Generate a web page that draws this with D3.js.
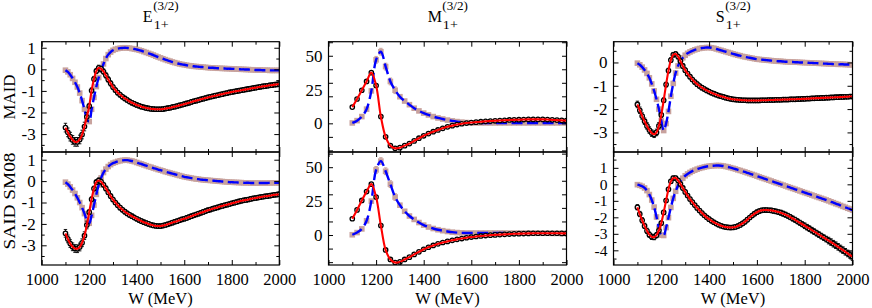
<!DOCTYPE html>
<html><head><meta charset="utf-8">
<script src="https://cdn.jsdelivr.net/npm/d3@7"></script>
<style>
html,body{margin:0;padding:0;background:#fff;}
svg{display:block;font-family:"Liberation Serif","Times New Roman",Times,serif;}
</style></head><body>
<svg id="chart" width="872" height="308"></svg>
<script>
// ---------------- DATA ----------------
const grid10 = d3.range(1100, 2001, 10);   // W (MeV) sampling for E and S panels
const grid20 = d3.range(1100, 2001, 20);   // W (MeV) sampling for M panels
const columnTitles = ["E", "M", "S"];
const rowLabels = ["MAID", "SAID SM08"];
const xTickLabels = [1000, 1200, 1400, 1600, 1800, 2000];

const E_MAID_re = [-2.70,-2.92,-3.12,-3.27,-3.36,-3.36,-3.25,-3.02,-2.65,-2.20,
 -1.70,-0.98,-0.45,-0.08,0.07,0.02,-0.10,-0.28,-0.47,-0.65,
 -0.82,-0.96,-1.08,-1.18,-1.27,-1.35,-1.42,-1.49,-1.55,-1.60,
 -1.65,-1.69,-1.73,-1.76,-1.79,-1.81,-1.83,-1.84,-1.85,-1.85,
 -1.85,-1.84,-1.82,-1.80,-1.78,-1.75,-1.73,-1.70,-1.67,-1.64,
 -1.61,-1.58,-1.55,-1.51,-1.48,-1.45,-1.42,-1.39,-1.36,-1.33,
 -1.30,-1.27,-1.25,-1.22,-1.20,-1.17,-1.15,-1.12,-1.10,-1.07,
 -1.05,-1.03,-1.01,-0.99,-0.97,-0.95,-0.93,-0.91,-0.89,-0.87,
 -0.85,-0.83,-0.81,-0.79,-0.78,-0.76,-0.74,-0.73,-0.71,-0.70,
 -0.68];
const E_MAID_im = [-0.04,-0.12,-0.25,-0.42,-0.60,-0.82,-1.10,-1.45,-1.85,-2.30,
 -2.42,-1.85,-1.30,-0.80,-0.38,-0.05,0.25,0.50,0.68,0.80,
 0.88,0.93,0.96,0.98,0.99,1.00,0.99,0.98,0.96,0.94,
 0.92,0.89,0.86,0.82,0.78,0.74,0.70,0.66,0.61,0.57,
 0.53,0.49,0.45,0.41,0.38,0.34,0.31,0.28,0.25,0.23,
 0.21,0.19,0.17,0.16,0.14,0.13,0.12,0.11,0.10,0.09,
 0.08,0.07,0.07,0.06,0.05,0.05,0.04,0.04,0.03,0.03,
 0.02,0.02,0.01,0.01,0.00,0.00,-0.01,-0.01,-0.02,-0.02,
 -0.03,-0.03,-0.03,-0.04,-0.04,-0.04,-0.05,-0.05,-0.05,-0.05,
 -0.05];
const E_SAID_re = [-2.44,-2.70,-2.92,-3.07,-3.15,-3.16,-3.08,-2.88,-2.55,-2.05,
 -1.45,-0.85,-0.35,-0.05,0.03,-0.03,-0.17,-0.34,-0.52,-0.70,
 -0.86,-1.00,-1.13,-1.24,-1.34,-1.43,-1.51,-1.58,-1.64,-1.70,
 -1.76,-1.82,-1.87,-1.92,-1.96,-2.00,-2.04,-2.07,-2.09,-2.10,
 -2.10,-2.08,-2.05,-2.02,-1.98,-1.94,-1.90,-1.87,-1.83,-1.79,
 -1.76,-1.72,-1.68,-1.64,-1.60,-1.56,-1.52,-1.48,-1.44,-1.40,
 -1.36,-1.33,-1.29,-1.26,-1.23,-1.19,-1.16,-1.13,-1.10,-1.07,
 -1.04,-1.01,-0.98,-0.95,-0.92,-0.90,-0.88,-0.86,-0.83,-0.81,
 -0.79,-0.77,-0.75,-0.73,-0.71,-0.70,-0.68,-0.66,-0.64,-0.63,
 -0.61];
const E_SAID_im = [-0.05,-0.14,-0.27,-0.42,-0.58,-0.78,-1.00,-1.24,-1.52,-1.82,
 -1.97,-1.60,-1.12,-0.62,-0.18,0.15,0.40,0.56,0.68,0.77,
 0.84,0.88,0.92,0.95,0.97,0.98,0.98,0.96,0.94,0.91,
 0.87,0.83,0.80,0.76,0.72,0.68,0.65,0.61,0.58,0.54,
 0.51,0.48,0.44,0.41,0.38,0.35,0.32,0.29,0.26,0.23,
 0.20,0.18,0.16,0.14,0.12,0.10,0.09,0.07,0.06,0.05,
 0.04,0.03,0.02,0.01,0.00,-0.01,-0.02,-0.03,-0.04,-0.05,
 -0.05,-0.06,-0.06,-0.07,-0.07,-0.08,-0.08,-0.08,-0.09,-0.09,
 -0.09,-0.09,-0.09,-0.09,-0.09,-0.09,-0.08,-0.08,-0.08,-0.08,
 -0.08];

const M_MAID_re = [12,18,24.5,31,37.5, 28,5,-10,-16.5,-18.5, -18,-16.5,-15,-13,-11,
 -9.2,-7.6,-6.2,-4.9,-3.7, -2.6,-1.7,-0.9,-0.3,0.2, 0.6,0.9,1.2,1.5,1.7,
 1.9,2.1,2.3,2.5,2.6, 2.7,2.8,2.9,2.9,2.9, 2.9,2.8,2.6,2.4,2.2, 2.0];
const M_MAID_im = [0.3,2.0,5.0,10.5,24, 47,53,42,31,24.5, 19.7,16.5,13.8,11.2,9.2,
 7.6,6.2,5.0,4.0,3.2, 2.4,1.8,1.3,0.9,0.6, 0.4,0.3,0.3,0.3,0.3,
 0.3,0.3,0.3,0.3,0.3, 0.3,0.3,0.3,0.3,0.3, 0.3,0.3,0.3,0.3,0.3, 0.3];
const M_SAID_re = [12,18.5,25.5,32,37.5, 28,7,-11,-18,-20.3, -19.8,-18,-16.3,-14.3,-12.4,
 -10.5,-9.0,-7.7,-6.5,-5.5, -4.7,-3.9,-3.2,-2.6,-2.0, -1.5,-1.1,-0.7,-0.4,-0.1,
 0.1,0.3,0.5,0.7,0.9, 1.0,1.1,1.2,1.3,1.3, 1.3,1.3,1.3,1.3,1.2, 1.2];
const M_SAID_im = [0.2,1.8,4.5,10.5,25, 48,54.5,47,37.5,28, 22,17.5,14,11.5,9.2,
 7.3,5.9,4.8,3.9,3.2, 2.6,2.1,1.8,1.6,1.5, 1.5,1.5,1.5,1.5,1.5,
 1.5,1.5,1.5,1.4,1.4, 1.4,1.4,1.4,1.3,1.3, 1.3,1.3,1.2,1.2,1.2, 1.2];

const S_MAID_re = [-1.80,-2.05,-2.30,-2.52,-2.72,-2.90,-3.03,-3.08,-3.00,-2.72,
 -2.25,-1.62,-0.95,-0.35,0.10,0.33,0.36,0.25,0.06,-0.15,
 -0.33,-0.48,-0.61,-0.73,-0.84,-0.93,-1.01,-1.08,-1.14,-1.20,
 -1.25,-1.30,-1.34,-1.38,-1.42,-1.45,-1.48,-1.51,-1.54,-1.56,
 -1.58,-1.59,-1.60,-1.61,-1.62,-1.62,-1.63,-1.63,-1.63,-1.63,
 -1.63,-1.63,-1.62,-1.62,-1.62,-1.61,-1.61,-1.61,-1.60,-1.60,
 -1.60,-1.59,-1.59,-1.59,-1.58,-1.58,-1.58,-1.57,-1.57,-1.56,
 -1.56,-1.55,-1.55,-1.54,-1.54,-1.53,-1.53,-1.52,-1.52,-1.51,
 -1.51,-1.50,-1.50,-1.49,-1.49,-1.48,-1.48,-1.47,-1.47,-1.46,
 -1.46];
const S_MAID_im = [-0.03,-0.10,-0.20,-0.32,-0.47,-0.66,-0.92,-1.22,-1.58,-2.00,
 -2.50,-2.92,-2.62,-2.10,-1.45,-0.90,-0.45,-0.15,0.06,0.20,
 0.31,0.39,0.45,0.50,0.54,0.57,0.60,0.62,0.63,0.64,
 0.64,0.63,0.61,0.58,0.55,0.52,0.49,0.46,0.43,0.40,
 0.37,0.34,0.31,0.29,0.26,0.24,0.22,0.20,0.18,0.16,
 0.14,0.13,0.12,0.11,0.10,0.09,0.08,0.07,0.06,0.05,
 0.05,0.04,0.03,0.03,0.02,0.02,0.01,0.01,0.00,0.00,
 -0.01,-0.01,-0.02,-0.02,-0.03,-0.03,-0.04,-0.04,-0.05,-0.05,
 -0.06,-0.06,-0.07,-0.07,-0.08,-0.08,-0.08,-0.09,-0.09,-0.10,
 -0.10];
const S_SAID_re = [-1.39,-1.80,-2.18,-2.52,-2.82,-3.05,-3.18,-3.20,-3.08,-2.80,
 -2.35,-1.70,-0.98,-0.30,0.18,0.38,0.38,0.24,0.02,-0.22,
 -0.46,-0.68,-0.89,-1.08,-1.26,-1.43,-1.59,-1.74,-1.88,-2.00,
 -2.11,-2.21,-2.30,-2.38,-2.45,-2.51,-2.56,-2.59,-2.61,-2.62,
 -2.61,-2.58,-2.53,-2.46,-2.37,-2.27,-2.14,-2.01,-1.89,-1.78,
 -1.69,-1.62,-1.58,-1.56,-1.56,-1.57,-1.58,-1.61,-1.64,-1.68,
 -1.72,-1.78,-1.84,-1.91,-1.99,-2.07,-2.15,-2.24,-2.33,-2.42,
 -2.51,-2.60,-2.69,-2.78,-2.87,-2.96,-3.05,-3.14,-3.23,-3.32,
 -3.41,-3.50,-3.60,-3.69,-3.79,-3.89,-3.99,-4.09,-4.19,-4.29,
 -4.38];
const S_SAID_im = [-0.02,-0.06,-0.12,-0.22,-0.38,-0.62,-0.95,-1.38,-1.98,-2.65,
 -3.08,-3.10,-2.62,-2.02,-1.40,-0.85,-0.42,-0.08,0.18,0.37,
 0.52,0.63,0.72,0.80,0.86,0.92,0.97,1.01,1.05,1.08,
 1.10,1.12,1.13,1.14,1.14,1.13,1.11,1.08,1.05,1.01,
 0.97,0.93,0.88,0.84,0.79,0.75,0.70,0.65,0.60,0.55,
 0.50,0.45,0.40,0.35,0.30,0.25,0.20,0.15,0.10,0.05,
 0.00,-0.05,-0.10,-0.15,-0.20,-0.25,-0.30,-0.35,-0.40,-0.45,
 -0.50,-0.55,-0.60,-0.65,-0.70,-0.75,-0.80,-0.85,-0.90,-0.95,
 -1.00,-1.06,-1.11,-1.17,-1.22,-1.28,-1.34,-1.39,-1.45,-1.50,
 -1.56];

// error bars, one value per 100 MeV bin (1100,1200,...,2000)
const errE_MAID_re = [0.20,0.12,0.10,0.10,0.10,0.10,0.10,0.10,0.10,0.10];
const errE_MAID_im = [0.06,0.07,0.04,0.04,0.04,0.04,0.04,0.04,0.04,0.04];
const errE_SAID_re = [0.18,0.11,0.10,0.10,0.10,0.10,0.10,0.10,0.10,0.10];
const errE_SAID_im = [0.06,0.07,0.04,0.04,0.04,0.04,0.04,0.04,0.04,0.04];
const errM_MAID_re = [0.8,1.0,0.6,0.5,0.5,0.5,0.5,0.5,0.5,0.5];
const errM_MAID_im = [0.5,2.5,1.0,0.5,0.4,0.4,0.4,0.4,0.4,0.4];
const errM_SAID_re = [0.8,1.0,0.6,0.5,0.5,0.5,0.5,0.5,0.5,0.5];
const errM_SAID_im = [0.5,2.5,1.0,0.5,0.4,0.4,0.4,0.4,0.4,0.4];
const errS_MAID_re = [0.14,0.10,0.09,0.09,0.09,0.09,0.09,0.09,0.09,0.09];
const errS_MAID_im = [0.06,0.08,0.04,0.04,0.04,0.04,0.04,0.04,0.04,0.04];
const errS_SAID_re = [0.16,0.12,0.11,0.12,0.12,0.13,0.15,0.17,0.20,0.23];
const errS_SAID_im = [0.06,0.08,0.05,0.05,0.05,0.05,0.05,0.05,0.05,0.05];

// ---------------- LAYOUT ----------------
const colX = [[41.7, 279.3], [328.5, 566.5], [613.5, 852.5]];
const rowY = [[41.7, 152], [152, 265]];
const EY = {major:[-3,-2,-1,0,1], minor:[-3.5,-2.5,-1.5,-0.5,0.5]};
const MY = {major:d3.range(-20, 61, 10), labels:[0,25,50]};
const panels = [
  {c:0,r:0,grid:grid10,re:E_MAID_re,im:E_MAID_im,ere:errE_MAID_re,eim:errE_MAID_im,dom:[-3.83,1.28],ticks:EY,fs:17},
  {c:0,r:1,grid:grid10,re:E_SAID_re,im:E_SAID_im,ere:errE_SAID_re,eim:errE_SAID_im,dom:[-3.92,1.36],ticks:EY,fs:17},
  {c:1,r:0,grid:grid20,re:M_MAID_re,im:M_MAID_im,ere:errM_MAID_re,eim:errM_MAID_im,dom:[-21.2,60.4],ticks:MY,fs:17},
  {c:1,r:1,grid:grid20,re:M_SAID_re,im:M_SAID_im,ere:errM_SAID_re,eim:errM_SAID_im,dom:[-22.1,61.2],ticks:MY,fs:17},
  {c:2,r:0,grid:grid10,re:S_MAID_re,im:S_MAID_im,ere:errS_MAID_re,eim:errS_MAID_im,dom:[-3.84,0.89],
     ticks:{major:[-3,-2,-1,0],minor:[-3.5,-2.5,-1.5,-0.5,0.5]},fs:17},
  {c:2,r:1,grid:grid10,re:S_SAID_re,im:S_SAID_im,ere:errS_SAID_re,eim:errS_SAID_im,dom:[-4.89,1.96],
     ticks:{major:[-4,-3,-2,-1,0,1],minor:[-4.5,-3.5,-2.5,-1.5,-0.5,0.5,1.5]},fs:15.5}
];

const RED = "#ff0000", BLUE = "#0000ff", BEIGE = "#c8a29d";
const svg = d3.select("#chart");
const fmt = d => String(d);
const majorX = xTickLabels, minorX = [1100,1300,1500,1700,1900];
const FONT = "'Liberation Serif','Times New Roman',Times,serif";

function styleAxis(g, fs){
  g.select(".domain").remove();
  g.attr("font-family",null).attr("font-size",null);
  g.selectAll("line").attr("stroke","#000").attr("stroke-width",1);
  g.selectAll("text").attr("font-size",fs||17).attr("fill","#000").attr("font-family",FONT);
}

panels.forEach((p,i) => {
  const [x0,x1] = colX[p.c], [y0,y1] = rowY[p.r];
  const x = d3.scaleLinear().domain([1000,2000]).range([x0,x1]);
  const y = d3.scaleLinear().domain(p.dom).range([y1,y0]);
  const g = svg.append("g");
  const clipId = "clip"+i;
  svg.append("clipPath").attr("id",clipId).append("rect")
     .attr("x",x0).attr("y",y0).attr("width",x1-x0).attr("height",y1-y0);
  const plot = g.append("g").attr("clip-path",`url(#${clipId})`);
  const bin = w => Math.min(9, Math.floor((w-1100)/100));
  const imData = p.grid.map((w,k)=>({w, v:p.im[k], e:p.eim[bin(w)]}));
  const reData = p.grid.map((w,k)=>({w, v:p.re[k], e:p.ere[bin(w)]}));
  const line = d3.line().x(d=>x(d.w)).y(d=>y(d.v)).curve(d3.curveCatmullRom.alpha(0.5));
  const ebPath = d => `M${x(d.w)},${y(d.v-d.e)}V${y(d.v+d.e)}M${x(d.w)-1.7},${y(d.v-d.e)}h3.4M${x(d.w)-1.7},${y(d.v+d.e)}h3.4`;

  // imaginary data (beige squares with error bars)
  const ig = plot.append("g");
  ig.selectAll("path.eb").data(imData).join("path").attr("class","eb")
    .attr("d", ebPath).attr("stroke",BEIGE).attr("stroke-width",1).attr("fill","none");
  ig.selectAll("rect").data(imData).join("rect")
    .attr("x",d=>x(d.w)-2.8).attr("y",d=>y(d.v)-2.8).attr("width",5.6).attr("height",5.6)
    .attr("fill",BEIGE);
  plot.append("path").datum(imData).attr("d",line).attr("fill","none")
    .attr("stroke",BLUE).attr("stroke-width",2.4).attr("stroke-dasharray","11,4.5");

  // real data (open black circles with error bars)
  const rg = plot.append("g");
  rg.selectAll("path.eb").data(reData).join("path").attr("class","eb")
    .attr("d", ebPath).attr("stroke","#000").attr("stroke-width",0.9).attr("fill","none");
  rg.selectAll("circle").data(reData).join("circle")
    .attr("cx",d=>x(d.w)).attr("cy",d=>y(d.v)).attr("r",2.2)
    .attr("fill","#fff").attr("stroke","#000").attr("stroke-width",1.3);
  plot.append("path").datum(reData).attr("d",line).attr("fill","none")
    .attr("stroke",RED).attr("stroke-width",2.1);

  // axes (inward ticks on all sides)
  const bottom = g.append("g").attr("transform",`translate(0,${y1})`)
    .call(d3.axisBottom(x).tickValues(majorX).tickSize(-5).tickPadding(8)
      .tickFormat(p.r===1 ? fmt : ()=>""));
  styleAxis(bottom, 16.5);
  const bottomMinor = g.append("g").attr("transform",`translate(0,${y1})`)
    .call(d3.axisBottom(x).tickValues(minorX).tickSize(-3).tickFormat(()=>""));
  styleAxis(bottomMinor);
  const top = g.append("g").attr("transform",`translate(0,${y0})`)
    .call(d3.axisTop(x).tickValues(majorX).tickSize(-5).tickFormat(()=>""));
  styleAxis(top);
  const topMinor = g.append("g").attr("transform",`translate(0,${y0})`)
    .call(d3.axisTop(x).tickValues(minorX).tickSize(-3).tickFormat(()=>""));
  styleAxis(topMinor);

  if (p.ticks.labels) {
    const l1 = g.append("g").attr("transform",`translate(${x0},0)`)
      .call(d3.axisLeft(y).tickValues(p.ticks.major).tickSize(-4.5).tickFormat(()=>""));
    styleAxis(l1);
    const l2 = g.append("g").attr("transform",`translate(${x0},0)`)
      .call(d3.axisLeft(y).tickValues(p.ticks.labels).tickSize(0).tickPadding(6).tickFormat(fmt));
    styleAxis(l2, p.fs);
    const r1 = g.append("g").attr("transform",`translate(${x1},0)`)
      .call(d3.axisRight(y).tickValues(p.ticks.major).tickSize(-4.5).tickFormat(()=>""));
    styleAxis(r1);
  } else {
    const l1 = g.append("g").attr("transform",`translate(${x0},0)`)
      .call(d3.axisLeft(y).tickValues(p.ticks.major).tickSize(-5).tickPadding(6).tickFormat(fmt));
    styleAxis(l1, p.fs);
    const l2 = g.append("g").attr("transform",`translate(${x0},0)`)
      .call(d3.axisLeft(y).tickValues(p.ticks.minor).tickSize(-3).tickFormat(()=>""));
    styleAxis(l2);
    const r1 = g.append("g").attr("transform",`translate(${x1},0)`)
      .call(d3.axisRight(y).tickValues(p.ticks.major).tickSize(-5).tickFormat(()=>""));
    styleAxis(r1);
    const r2 = g.append("g").attr("transform",`translate(${x1},0)`)
      .call(d3.axisRight(y).tickValues(p.ticks.minor).tickSize(-3).tickFormat(()=>""));
    styleAxis(r2);
  }

  g.append("rect").attr("x",x0).attr("y",y0).attr("width",x1-x0).attr("height",y1-y0)
    .attr("fill","none").attr("stroke","#000").attr("stroke-width",1.2);
});

// column titles  X_{1+}^{(3/2)}
colX.forEach((c,i) => {
  const cx = (c[0]+c[1])/2;
  const tg = svg.append("g").attr("font-family",FONT);
  const main = tg.append("text").attr("font-size",16).attr("y",22).text(columnTitles[i]);
  const mw = main.node().getComputedTextLength();
  const sup = tg.append("text").attr("font-size",12).attr("y",9.5).text("(3/2)")
     .attr("textLength",25.5).attr("lengthAdjust","spacingAndGlyphs");
  const sub = tg.append("text").attr("font-size",12.5).attr("y",29).text("1+")
     .attr("textLength",15).attr("lengthAdjust","spacingAndGlyphs");
  const left = cx - (mw + 25.5)/2;
  main.attr("x",left);
  sup.attr("x",left+mw+0.5);
  sub.attr("x",left+mw+1);
  // x-axis title
  svg.append("text").attr("x",cx).attr("y",303.5).attr("text-anchor","middle")
     .attr("font-family",FONT).attr("font-size",16.5).text("W (MeV)");
});

// row labels
const rowCenters = [97, 201];
rowLabels.forEach((t,i) => {
  svg.append("text").attr("transform",`translate(15,${rowCenters[i]}) rotate(-90)`)
     .attr("text-anchor","middle").attr("font-family",FONT).attr("font-size",17).text(t)
     .attr("textLength", i===0 ? 45 : 97).attr("lengthAdjust","spacingAndGlyphs");
});
</script>
</body></html>
